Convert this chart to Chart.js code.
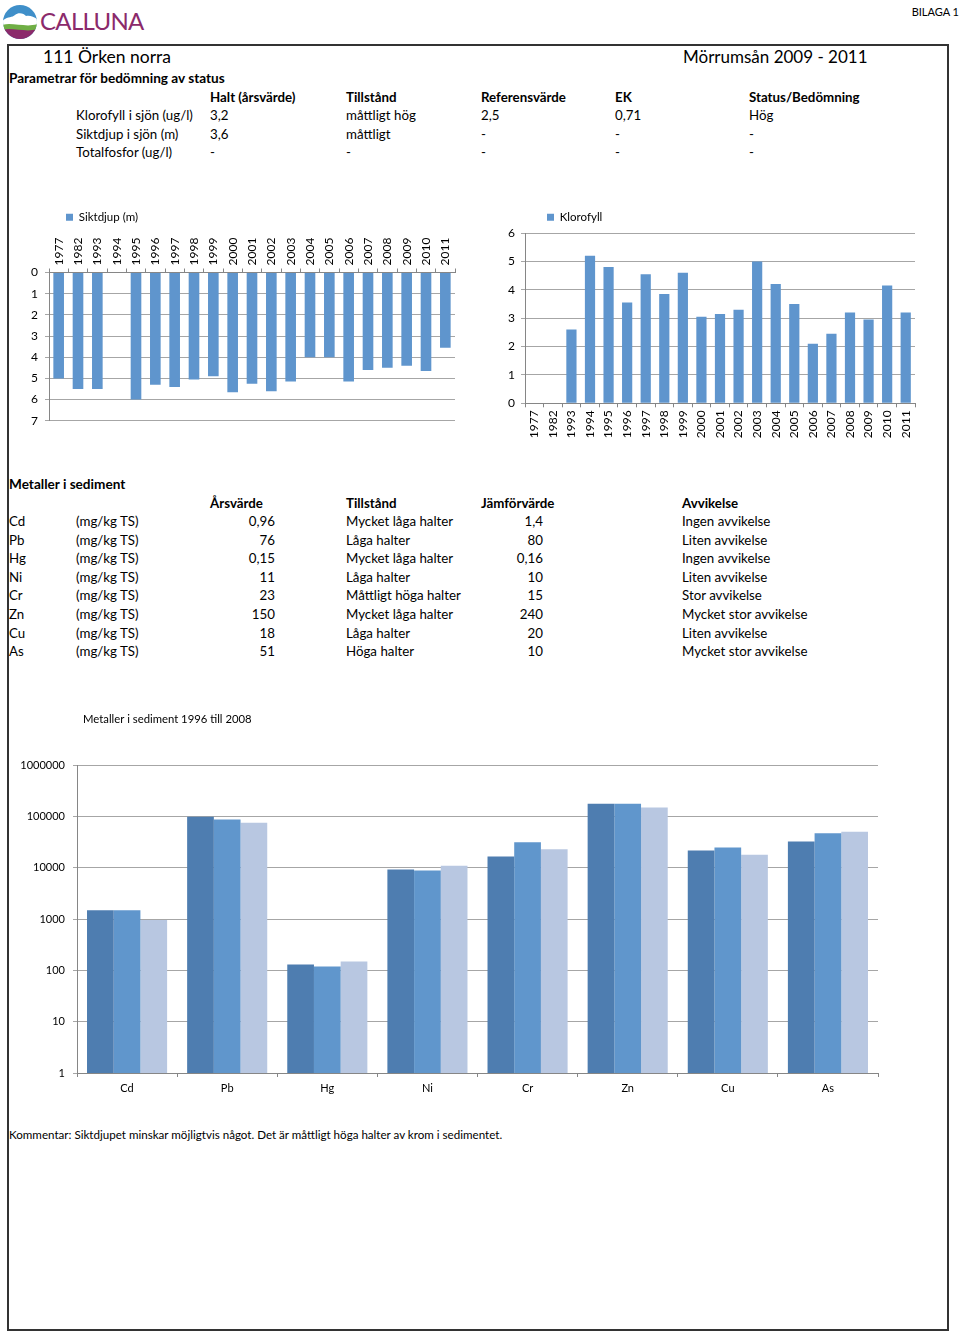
<!DOCTYPE html>
<html>
<head>
<meta charset="utf-8">
<script src="https://cdn.jsdelivr.net/npm/chart.js@4"></script>
<style>
  body { margin: 0; width: 960px; height: 1333px; position: relative; background: #fff; overflow: hidden;
         font-family: Lato, "Open Sans", sans-serif; color: #000; }
  .t { position: absolute; white-space: nowrap; font-size: 13.3px; line-height: 16px; }
  .b { font-weight: bold; }
  .frame { position: absolute; left: 7px; top: 44px; width: 942px; height: 1287px;
           border: 2px solid #333; box-sizing: border-box; }
  canvas { position: absolute; }
</style>
</head>
<body>
<svg style="position:absolute;left:2px;top:4px" width="36" height="36" viewBox="0 0 36 36">
  <defs><clipPath id="c"><circle cx="18" cy="18" r="17"/></clipPath></defs>
  <g clip-path="url(#c)">
    <rect width="36" height="36" fill="#3f8fc9"/>
    <path d="M0 17 C6 12 10 14 13 11 C16 8 22 9 24 12 C28 11 33 13 36 16 L36 22 L0 22Z" fill="#fff"/>
    <path d="M0 21 C10 18 24 24 36 20 L36 27 L0 27Z" fill="#6fae45"/>
    <path d="M0 26 C10 23 24 29 36 25 L36 36 L0 36Z" fill="#8b2a6b"/>
  </g>
</svg>
<div class="t" style="left:40px;top:6px;font-size:24px;line-height:30px;color:#8b2a6b;letter-spacing:-0.7px">CALLUNA</div>
<div class="t" style="right:1px;top:4px;font-size:11px">BILAGA 1</div>
<div class="frame"></div>
<div id="texts"></div>

<canvas id="sikt" width="470" height="245" style="left:0;top:190px"></canvas>
<canvas id="klor" width="460" height="255" style="left:490px;top:185px"></canvas>
<canvas id="met" width="900" height="405" style="left:0;top:700px"></canvas>

<script>
// lake data
const years = ['1977', '1982', '1993', '1994', '1995', '1996', '1997', '1998', '1999', '2000', '2001',
  '2002', '2003', '2004', '2005', '2006', '2007', '2008', '2009', '2010', '2011'];
const siktdjup = [5.0, 5.5, 5.5, null, 6.0, 5.3, 5.4, 5.05, 4.9, 5.65, 5.25,
  5.6, 5.15, 4.0, 4.0, 5.15, 4.6, 4.5, 4.4, 4.65, 3.55];
const klorofyll = [null, null, 2.6, 5.2, 4.8, 3.55, 4.55, 3.85, 4.6, 3.05, 3.15,
  3.3, 5.0, 4.2, 3.5, 2.1, 2.45, 3.2, 2.95, 4.15, 3.2];

// sediment metals (log chart)
const metals = ['Cd', 'Pb', 'Hg', 'Ni', 'Cr', 'Zn', 'Cu', 'As'];
const metSerie1 = [1500, 100000, 130, 9300, 16700, 178000, 21900, 32700];
const metSerie2 = [1500, 88000, 120, 8900, 31800, 178000, 25000, 47600];
const metSerie3 = [960, 76000, 150, 11000, 23000, 150000, 18000, 51000];
const logTicks = [1, 10, 100, 1000, 10000, 100000, 1000000];

// tables
const paramHeaders = ['Halt (årsvärde)', 'Tillstånd', 'Referensvärde', 'EK', 'Status/Bedömning'];
const paramRows = [
  ['Klorofyll i sjön (ug/l)', '3,2', 'måttligt hög', '2,5', '0,71', 'Hög'],
  ['Siktdjup i sjön (m)', '3,6', 'måttligt', '-', '-', '-'],
  ['Totalfosfor (ug/l)', '-', '-', '-', '-', '-']
];
const metHeaders = ['Årsvärde', 'Tillstånd', 'Jämförvärde', 'Avvikelse'];
const metRows = [
  ['Cd', '(mg/kg TS)', '0,96', 'Mycket låga halter', '1,4', 'Ingen avvikelse'],
  ['Pb', '(mg/kg TS)', '76', 'Låga halter', '80', 'Liten avvikelse'],
  ['Hg', '(mg/kg TS)', '0,15', 'Mycket låga halter', '0,16', 'Ingen avvikelse'],
  ['Ni', '(mg/kg TS)', '11', 'Låga halter', '10', 'Liten avvikelse'],
  ['Cr', '(mg/kg TS)', '23', 'Måttligt höga halter', '15', 'Stor avvikelse'],
  ['Zn', '(mg/kg TS)', '150', 'Mycket låga halter', '240', 'Mycket stor avvikelse'],
  ['Cu', '(mg/kg TS)', '18', 'Låga halter', '20', 'Liten avvikelse'],
  ['As', '(mg/kg TS)', '51', 'Höga halter', '10', 'Mycket stor avvikelse']
];

const box = document.getElementById('texts');
function txt(s, x, y, opt) {
  opt = opt || {};
  const d = document.createElement('div');
  d.className = 't' + (opt.bold ? ' b' : '');
  d.textContent = s;
  d.style.left = x + 'px';
  d.style.top = (y - 8) + 'px';
  if (opt.size) d.style.fontSize = opt.size + 'px';
  if (opt.right) d.style.transform = 'translateX(-100%)';
  box.appendChild(d);
}

txt('111 Örken norra', 43, 57, { size: 17.5 });
txt('Mörrumsån 2009 - 2011', 683, 57, { size: 17 });
txt('Parametrar för bedömning av status', 9, 78, { bold: true, size: 13.6 });
const pCols = [210, 346, 481, 615, 749];
paramHeaders.forEach((h, i) => txt(h, pCols[i], 97, { bold: true }));
paramRows.forEach((r, j) => {
  const y = 115 + j * 18.6;
  txt(r[0], 76, y);
  r.slice(1).forEach((v, i) => txt(v, pCols[i], y));
});

txt('Metaller i sediment', 9, 484, { bold: true, size: 13.6 });
txt(metHeaders[0], 210, 503, { bold: true });
txt(metHeaders[1], 346, 503, { bold: true });
txt(metHeaders[2], 481, 503, { bold: true });
txt(metHeaders[3], 682, 503, { bold: true });
metRows.forEach((r, j) => {
  const y = 521 + j * 18.6;
  txt(r[0], 9, y);
  txt(r[1], 76, y);
  txt(r[2], 275, y, { right: true });
  txt(r[3], 346, y);
  txt(r[4], 543, y, { right: true });
  txt(r[5], 682, y);
});

txt('Kommentar: Siktdjupet minskar möjligtvis något. Det är måttligt höga halter av krom i sedimentet.', 9, 1135, { size: 11.6 });

// chart styling
Chart.defaults.font.family = 'Lato, "Open Sans", sans-serif';
Chart.defaults.font.size = 11;
Chart.defaults.color = '#000';
Chart.defaults.animation = false;
Chart.defaults.responsive = false;

const gridGray = '#a6a6a6';
const axisGray = '#868686';
const barBlue = '#5f95cd';

// move legend/title sideways after layout
const nudge = {
  id: 'nudge',
  afterLayout(chart, args, opts) {
    if (opts.legend) { chart.legend.left += opts.legend; chart.legend.right += opts.legend; }
    if (opts.title) { chart.titleBlock.left += opts.title; chart.titleBlock.right += opts.title; }
  }
};

const legendOpts = {
  fullSize: false, align: 'start',
  labels: { boxWidth: 7, boxHeight: 7, padding: 10, font: { size: 11.5 } }
};

new Chart(document.getElementById('sikt'), {
  type: 'bar',
  plugins: [nudge],
  data: {
    labels: years,
    datasets: [{ label: 'Siktdjup (m)', data: siktdjup, backgroundColor: barBlue,
      categoryPercentage: 1, barPercentage: 0.55 }]
  },
  options: {
    layout: { padding: { top: 11.5, right: 15, bottom: 8, left: 0 } },
    plugins: { legend: legendOpts, tooltip: { enabled: false }, nudge: { legend: 7 } },
    scales: {
      x: {
        position: 'top',
        grid: { drawOnChartArea: false, color: axisGray, tickLength: 4 },
        border: { color: axisGray },
        ticks: { autoSkip: false, minRotation: 90, maxRotation: 90, padding: 3, labelOffset: 14.4,
          font: { size: 12 } },
        afterFit: s => { s.height = 39.5; }
      },
      y: {
        reverse: true, min: 0, max: 7,
        grid: { color: gridGray, tickLength: 4 },
        border: { color: axisGray },
        ticks: { stepSize: 1, padding: 7, font: { size: 12 } },
        afterFit: s => { s.width = 49; }
      }
    }
  }
});

new Chart(document.getElementById('klor'), {
  type: 'bar',
  plugins: [nudge],
  data: {
    labels: years,
    datasets: [{ label: 'Klorofyll', data: klorofyll, backgroundColor: barBlue,
      categoryPercentage: 1, barPercentage: 0.55 }]
  },
  options: {
    layout: { padding: { top: 16.5, right: 35, bottom: 0, left: 0 } },
    plugins: { legend: legendOpts, tooltip: { enabled: false }, nudge: { legend: 12 } },
    scales: {
      x: {
        grid: { drawOnChartArea: false, color: axisGray, tickLength: 4 },
        border: { color: axisGray },
        ticks: { autoSkip: false, minRotation: 90, maxRotation: 90, padding: 3, font: { size: 12 } },
        afterFit: s => { s.height = 36.7; }
      },
      y: {
        min: 0, max: 6,
        grid: { color: gridGray, tickLength: 4 },
        border: { color: axisGray },
        ticks: { stepSize: 1, padding: 6, font: { size: 12 } },
        afterFit: s => { s.width = 35; }
      }
    }
  }
});

new Chart(document.getElementById('met'), {
  type: 'bar',
  plugins: [nudge],
  data: {
    labels: metals,
    datasets: [
      { label: 'Serie1', data: metSerie1, backgroundColor: '#4e7db0' },
      { label: 'Serie2', data: metSerie2, backgroundColor: '#6096cc' },
      { label: 'Serie3', data: metSerie3, backgroundColor: '#b8c7e1' }
    ]
  },
  options: {
    datasets: { bar: { categoryPercentage: 0.8, barPercentage: 1 } },
    layout: { padding: { top: 0, right: 22, bottom: 0, left: 0 } },
    plugins: {
      legend: { display: false },
      tooltip: { enabled: false },
      title: {
        display: true, text: 'Metaller i sediment 1996 till 2008', align: 'start', fullSize: false,
        font: { size: 11.3, weight: 'normal' }, color: '#000', padding: { top: 12.4, bottom: 39.4 }
      },
      nudge: { title: 6 }
    },
    scales: {
      x: {
        grid: { drawOnChartArea: false, color: axisGray, tickLength: 4 },
        border: { color: axisGray },
        ticks: { padding: 5 },
        afterFit: s => { s.height = 32; }
      },
      y: {
        type: 'logarithmic', min: 1, max: 1000000,
        grid: { color: gridGray, tickLength: 4 },
        border: { color: axisGray },
        afterBuildTicks: s => { s.ticks = logTicks.map(v => ({ value: v })); },
        ticks: { padding: 8, callback: v => String(v) },
        afterFit: s => { s.width = 77; }
      }
    }
  }
});
</script>
</body>
</html>
